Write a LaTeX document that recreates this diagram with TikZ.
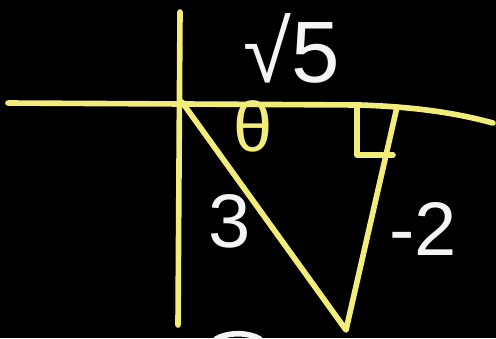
\documentclass[tikz,border=0pt]{standalone}
\usepackage{fontspec}
\setmainfont{Liberation Sans}
\definecolor{SkYellow}{HTML}{F2EC78}
\definecolor{SkWhite}{HTML}{F4F4F4}
\tikzset{
  pen/.style={SkYellow,line width=4pt,line cap=round,line join=round},
  chalk/.style={SkWhite,line width=4pt,line cap=round},
  tag/.style={text=SkWhite,inner sep=0pt,font=\fontsize{54}{56}\selectfont}
}
\begin{document}
\begin{tikzpicture}[x=0.025cm,y=-0.025cm]
\fill[black] (0,0) rectangle (496,338);
\path[use as bounding box] (0,0) rectangle (496,338);
% axes
\draw[pen] (180,12) -- (178,325);
\draw[pen] (8,103) -- (360,105) .. controls (420,107) and (460,114) .. (493,123);
% triangle
\coordinate (O) at (182,102);
\coordinate (A) at (397,107);
\coordinate (B) at (346,330);
\draw[pen] (O) -- (B) -- (A);
% right angle mark
\draw[pen] (357,107) -- (357,155) -- (393,155);
% labels
\node[tag,font=\fontsize{62}{64}\selectfont] (hyp) at (292,48) {√5};
\node[tag,text=SkYellow,font=\fontsize{50}{52}\selectfont] (ang) at (253,126) {θ};
\node[tag] (side) at (230,221) {3};
\node[tag] (opp) at (423,229) {-2};
% cut-off stroke at the bottom
\draw[chalk] (216,339) .. controls (228,332) and (248,332) .. (260,339);
\end{tikzpicture}
\end{document}
